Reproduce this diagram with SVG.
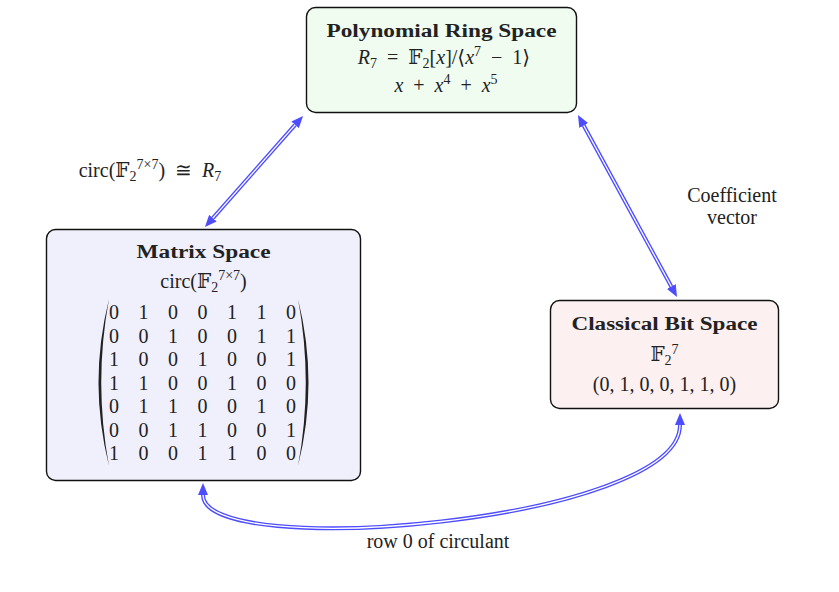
<svg xmlns="http://www.w3.org/2000/svg" width="839" height="592" viewBox="0 0 839 592">
<defs>
<style>
text{font-family:"Liberation Serif","DejaVu Serif",serif;fill:#222;font-size:20px}
.t{font-weight:bold;font-size:18.5px}
.i{font-style:italic}
.s{font-size:14px}
.box{stroke:#111;stroke-width:1.4}
.dbl{fill:none;stroke:#4d4dff;stroke-width:4}
.inn{fill:none;stroke:#fff;stroke-width:1.3}
.m text{text-anchor:middle}
</style>
<marker id="ah" viewBox="0 0 12 10" refX="0" refY="5" markerWidth="12" markerHeight="10" markerUnits="userSpaceOnUse" orient="auto-start-reverse">
<path d="M0,0 L12,5 L0,10 z" fill="#4d4dff"/>
</marker>
</defs>
<rect width="839" height="592" fill="#fff"/>

<g id="connectors">
<path class="dbl" d="M212.9,218.1 L295.1,124.9" marker-start="url(#ah)" marker-end="url(#ah)"/>
<path class="inn" d="M212.9,218.1 L295.1,124.9"/>
<path class="dbl" d="M583.7,125.5 L671.3,286.5" marker-start="url(#ah)" marker-end="url(#ah)"/>
<path class="inn" d="M583.7,125.5 L671.3,286.5"/>
<path class="dbl" d="M203,495 C203,562 680,522 680,425" marker-start="url(#ah)" marker-end="url(#ah)"/>
<path class="inn" d="M203,495 C203,562 680,522 680,425"/>
<text x="150" y="177" text-anchor="middle" font-size="19">circ(𝔽<tspan class="s" dy="4">2</tspan><tspan class="s" dy="-12">7×7</tspan><tspan dy="8">)&#8194;≅&#8194;</tspan><tspan class="i">R</tspan><tspan class="s" dy="4">7</tspan></text>
<text x="732" y="202" text-anchor="middle" font-size="16.5">Coefficient</text>
<text x="732" y="224" text-anchor="middle" font-size="16.5">vector</text>
<text x="438" y="548" text-anchor="middle" font-size="17.5">row 0 of circulant</text>
</g>

<g id="poly" class="m">
<rect class="box" x="306.5" y="7.5" width="270" height="105" rx="9" fill="#f0fcf0"/>
<text class="t" x="441.5" y="36.5" textLength="230" lengthAdjust="spacingAndGlyphs">Polynomial Ring Space</text>
<text x="444" y="64" font-size="21"><tspan class="i">R</tspan><tspan class="s" dy="4">7</tspan><tspan dy="-4">&#8194;=&#8194;𝔽</tspan><tspan class="s" dy="4">2</tspan><tspan dy="-4">[</tspan><tspan class="i">x</tspan>]/⟨<tspan class="i">x</tspan><tspan class="s" dy="-8">7</tspan><tspan dy="8">&#8194;−&#8194;1⟩</tspan></text>
<text x="446" y="92"><tspan class="i">x</tspan>&#8194;+&#8194;<tspan class="i">x</tspan><tspan class="s" dy="-8">4</tspan><tspan dy="8">&#8194;+&#8194;</tspan><tspan class="i">x</tspan><tspan class="s" dy="-8">5</tspan></text>
</g>

<g id="matrix" class="m">
<rect class="box" x="46.5" y="229.5" width="314" height="251" rx="9" fill="#f0f0fc"/>
<text class="t" x="203.5" y="258" textLength="134" lengthAdjust="spacingAndGlyphs">Matrix Space</text>
<text x="203.5" y="288">circ(𝔽<tspan class="s" dy="4">2</tspan><tspan class="s" dy="-12">7×7</tspan><tspan dy="8">)</tspan></text>
<path d="M109,299 Q88,382.5 109,466 Q93.5,382.5 109,299 z" fill="#222"/>
<path d="M298,299 Q319,382.5 298,466 Q313.5,382.5 298,299 z" fill="#222"/>
<text y="319"><tspan x="114">0</tspan><tspan x="143.5">1</tspan><tspan x="173">0</tspan><tspan x="202.5">0</tspan><tspan x="232">1</tspan><tspan x="261.5">1</tspan><tspan x="291">0</tspan></text>
<text y="342.5"><tspan x="114">0</tspan><tspan x="143.5">0</tspan><tspan x="173">1</tspan><tspan x="202.5">0</tspan><tspan x="232">0</tspan><tspan x="261.5">1</tspan><tspan x="291">1</tspan></text>
<text y="366"><tspan x="114">1</tspan><tspan x="143.5">0</tspan><tspan x="173">0</tspan><tspan x="202.5">1</tspan><tspan x="232">0</tspan><tspan x="261.5">0</tspan><tspan x="291">1</tspan></text>
<text y="389.5"><tspan x="114">1</tspan><tspan x="143.5">1</tspan><tspan x="173">0</tspan><tspan x="202.5">0</tspan><tspan x="232">1</tspan><tspan x="261.5">0</tspan><tspan x="291">0</tspan></text>
<text y="413"><tspan x="114">0</tspan><tspan x="143.5">1</tspan><tspan x="173">1</tspan><tspan x="202.5">0</tspan><tspan x="232">0</tspan><tspan x="261.5">1</tspan><tspan x="291">0</tspan></text>
<text y="436.5"><tspan x="114">0</tspan><tspan x="143.5">0</tspan><tspan x="173">1</tspan><tspan x="202.5">1</tspan><tspan x="232">0</tspan><tspan x="261.5">0</tspan><tspan x="291">1</tspan></text>
<text y="460"><tspan x="114">1</tspan><tspan x="143.5">0</tspan><tspan x="173">0</tspan><tspan x="202.5">1</tspan><tspan x="232">1</tspan><tspan x="261.5">0</tspan><tspan x="291">0</tspan></text>
</g>

<g id="bits" class="m">
<rect class="box" x="550.5" y="300.5" width="228" height="108" rx="9" fill="#fdf0f0"/>
<text class="t" x="664.5" y="330" textLength="186" lengthAdjust="spacingAndGlyphs">Classical Bit Space</text>
<text x="664.5" y="361">𝔽<tspan class="s" dy="4">2</tspan><tspan class="s" dy="-11">7</tspan></text>
<text x="664.5" y="391">(0, 1, 0, 0, 1, 1, 0)</text>
</g>
</svg>
